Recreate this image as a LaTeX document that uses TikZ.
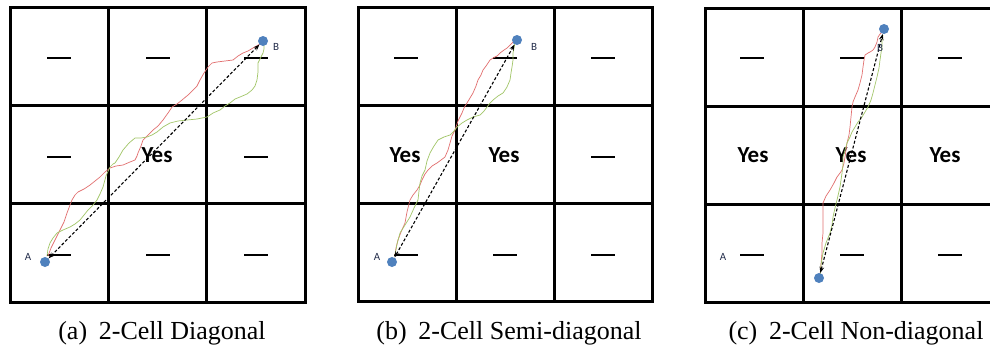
\documentclass[tikz,border=0pt]{standalone}
\usepackage{fontspec}
\setmainfont{Liberation Serif}
\newfontfamily\calib{Carlito}
\usetikzlibrary{arrows.meta}
\definecolor{ptblue}{RGB}{79,129,189}
\definecolor{trred}{RGB}{226,112,112}
\definecolor{trgreen}{RGB}{162,198,104}
\definecolor{lblcol}{RGB}{35,45,75}
\newcommand\mygrid[3]{%
  \draw[gridline] (#1,#2) rectangle ++(#3,#3);
  \draw[gridline] ({#1+#3/3},#2) -- ++(0,#3);
  \draw[gridline] ({#1+2*#3/3},#2) -- ++(0,#3);
  \draw[gridline] (#1,{#2+#3/3}) -- ++(#3,0);
  \draw[gridline] (#1,{#2+2*#3/3}) -- ++(#3,0);}
\newcommand\mydash[2]{\draw[dashmark] ({#1-12},#2) -- ({#1+12},#2);}
\begin{document}
\begin{tikzpicture}[x=1pt,y=-1pt,
  gridline/.style={line width=3pt,black,line cap=rect},
  dashmark/.style={line width=2pt,black},
  yes/.style={font=\calib\bfseries\fontsize{23}{23}\selectfont,inner sep=0pt},
  dot/.style={circle,fill=ptblue,inner sep=0pt,minimum size=10pt},
  lbl/.style={font=\calib\fontsize{11}{11}\selectfont,text=lblcol,inner sep=0pt},
  redpath/.style={draw=trred,line width=0.7pt,line join=round},
  greenpath/.style={draw=trgreen,line width=0.7pt,line join=round},
  link/.style={line width=1.1pt,dash pattern=on 3pt off 2pt,{Stealth[length=6pt,width=4.5pt]}-{Stealth[length=6pt,width=4.5pt]}},
  caption/.style={font=\fontsize{26}{26}\selectfont,inner sep=0pt}]
\useasboundingbox (0,0) rectangle (990,351);
\fill[white] (0,0) rectangle (990,351);

% ---------------- panel (a) ----------------
\mygrid{10}{7}{295}
\mydash{59}{58}\mydash{158}{58}\mydash{256}{58}
\mydash{59}{157}\mydash{256}{157}
\mydash{59}{255}\mydash{158}{255}\mydash{256}{255}
\node[yes] (ayes) at (157,155) {Yes};
\draw[redpath] (48,256)--(51,248)--(55,240)--(57,236)--(60,230)--(64,222)--(67,213)--(70,205)--(72,200)--(75,195)--(78,192)--(84,189)--(90,185)--(95,181)--(100,177)--(105,172)--(110,168)--(116,166)--(123,165)--(130,162)--(135,160)--(137,156)--(138,153)--(141,146)--(143,140)--(148,135)--(153,130)--(158,126)--(163,120)--(168,113)--(172,107)--(177,104)--(182,100)--(188,95)--(193,90)--(197,86)--(200,80)--(204,73)--(208,67)--(212,63)--(217,62)--(225,61)--(233,60)--(238,56)--(243,53)--(248,51)--(253,48)--(260,44);
\draw[greenpath] (47,256)--(48,249)--(50,243)--(53,238)--(57,233)--(63,230)--(70,227)--(75,224)--(80,220)--(84,215)--(88,210)--(93,205)--(97,200)--(100,194)--(103,187)--(106,176)--(110,167)--(113,164)--(115,163)--(119,157)--(123,150)--(129,143)--(135,138)--(141,138)--(147,137)--(152,135)--(157,132)--(163,127)--(170,123)--(178,121)--(187,120)--(197,119)--(207,117)--(213,113)--(220,110)--(225,106)--(230,103)--(235,99)--(240,97)--(247,94)--(252,90)--(255,86)--(257,80)--(258,72)--(258,63)--(261,57)--(263,53)--(264,49)--(264,45);
\node[dot] (aA) at (45,262) {};
\node[dot] (aB) at (263,41) {};
\draw[link] (aA) -- (aB);
\node[lbl] (aAl) at (28,257) {A};
\node[lbl] (aBl) at (276,47) {B};
\node[caption] (acap) at (162,333) {(a)\hspace{0.45em}2-Cell Diagonal};

% ---------------- panel (b) ----------------
\mygrid{358}{7}{294}
\mydash{406}{58}\mydash{505}{58}\mydash{603}{58}
\mydash{603}{157}
\mydash{406}{255}\mydash{505}{255}\mydash{603}{255}
\node[yes] (byes1) at (405,155) {Yes};
\node[yes] (byes2) at (504,155) {Yes};
\draw[redpath] (395,255)--(396,248)--(398,240)--(401,232)--(405,223)--(407,212)--(410,200)--(413,195)--(417,190)--(420,185)--(422,180)--(425,174)--(428,170)--(432,166)--(437,163)--(441,160)--(445,157)--(448,150)--(450,143)--(452,136)--(455,130)--(458,121)--(462,113)--(464,108)--(467,103)--(470,98)--(473,93)--(476,86)--(478,80)--(481,75)--(483,70)--(486,66)--(488,63)--(490,60)--(493,58)--(497,56)--(500,53)--(504,50)--(507,48)--(510,45)--(513,42);
\draw[greenpath] (395,255)--(397,244)--(400,233)--(405,225)--(410,217)--(414,208)--(418,200)--(419,191)--(420,183)--(422,176)--(425,170)--(427,161)--(430,153)--(434,146)--(438,140)--(444,137)--(450,135)--(454,131)--(457,127)--(462,123)--(467,120)--(473,117)--(480,115)--(484,111)--(487,107)--(490,103)--(493,100)--(498,96)--(503,93)--(507,87)--(510,80)--(511,73)--(512,67)--(513,60)--(513,53)--(514,48)--(515,43);
\node[dot] (bA) at (392,262) {};
\node[dot] (bB) at (517,40) {};
\draw[link] (bA) -- (bB);
\node[lbl] (bAl) at (377,257) {A};
\node[lbl] (bBl) at (534,47) {B};
\node[caption] (bcap) at (509,333) {(b)\hspace{0.45em}2-Cell Semi-diagonal};

% ---------------- panel (c) ----------------
\mygrid{705}{8}{294}
\mydash{752}{58}\mydash{852}{58}\mydash{950}{58}
\mydash{752}{255}\mydash{852}{255}\mydash{950}{255}
\node[yes] (cyes1) at (753,155) {Yes};
\node[yes] (cyes2) at (851,155) {Yes};
\node[yes] (cyes3) at (945,155) {Yes};
\draw[redpath] (820,275)--(821,264)--(822,253)--(822,243)--(823,233)--(823,218)--(823,203)--(826,196)--(830,190)--(834,183)--(837,177)--(840,173)--(842,170)--(844,163)--(845,157)--(846,150)--(847,143)--(849,135)--(850,127)--(851,117)--(852,107)--(853,102)--(855,97)--(858,90)--(860,83)--(862,75)--(863,67)--(864,60)--(865,55)--(868,53)--(870,52)--(873,50)--(875,47)--(877,42)--(878,37)--(880,34)--(882,32);
\draw[greenpath] (820,277)--(821,265)--(823,253)--(826,243)--(830,233)--(832,225)--(833,217)--(835,208)--(837,200)--(840,187)--(842,173)--(843,165)--(843,157)--(845,150)--(847,143)--(849,139)--(850,137)--(852,132)--(855,127)--(858,122)--(862,117)--(865,112)--(868,107)--(871,100)--(873,93)--(875,85)--(877,77)--(879,68)--(880,60)--(881,53)--(882,47)--(882,41)--(883,35);
\node[dot] (cA) at (819,278) {};
\node[dot] (cB) at (884,29) {};
\draw[link] (cA) -- (cB);
\node[lbl] (cAl) at (723,257) {A};
\node[lbl] (cBl) at (880,48) {B};
\node[caption] (ccap) at (856,333) {(c)\hspace{0.45em}2-Cell Non-diagonal};
\end{tikzpicture}
\end{document}
